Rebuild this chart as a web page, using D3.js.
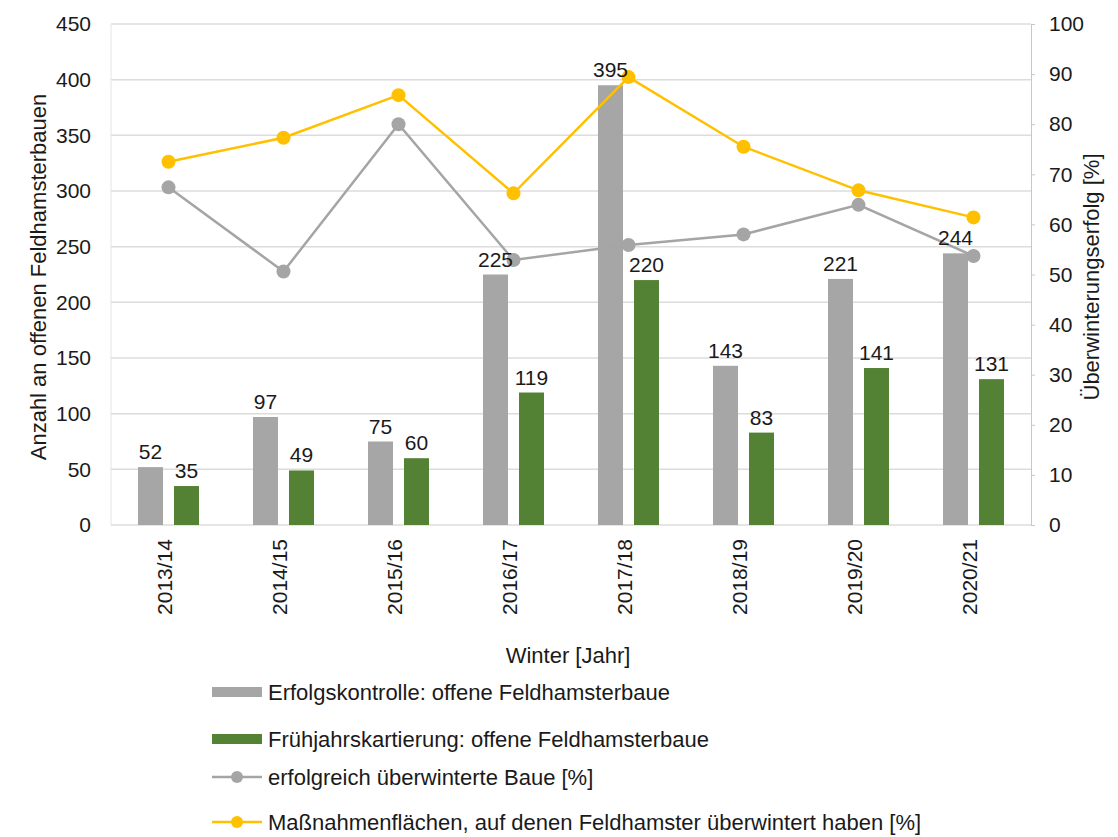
<!DOCTYPE html>
<html>
<head>
<meta charset="utf-8">
<script src="https://cdn.jsdelivr.net/npm/d3@7"></script>
<style>
  body { margin: 0; background: #fff; }
  text { font-family: "Liberation Sans", Arial, sans-serif; fill: #1a1a1a; }
</style>
</head>
<body>
<div id="chart"></div>
<script>
var winters = ["2013/14", "2014/15", "2015/16", "2016/17", "2017/18", "2018/19", "2019/20", "2020/21"];
var erfolgskontrolle = [52, 97, 75, 225, 395, 143, 221, 244];
var fruehjahr = [35, 49, 60, 119, 220, 83, 141, 131];
var ueberwinterteBaue = [67.4, 50.6, 80.0, 52.9, 55.9, 58.0, 63.9, 53.7];
var massnahmenflaechen = [72.5, 77.3, 85.8, 66.2, 89.4, 75.5, 66.8, 61.4];
var leftTicks = [0, 50, 100, 150, 200, 250, 300, 350, 400, 450];
var rightTicks = [0, 10, 20, 30, 40, 50, 60, 70, 80, 90, 100];
var legendLabels = [
  "Erfolgskontrolle: offene Feldhamsterbaue",
  "Frühjahrskartierung: offene Feldhamsterbaue",
  "erfolgreich überwinterte Baue [%]",
  "Maßnahmenflächen, auf denen Feldhamster überwintert haben [%]"
];

var W = 1118, H = 837,
  plot = {left: 111, right: 1031, top: 24, bottom: 525},
  grey = "#a6a6a6", green = "#548235", yellow = "#ffc000", greyLine = "#a5a5a5";

var svg = d3.select("#chart").append("svg")
  .attr("width", W).attr("height", H);

var x = d3.scaleBand().domain(winters).range([plot.left, plot.right]);
var yL = d3.scaleLinear().domain([0, 450]).range([plot.bottom, plot.top]);
var yR = d3.scaleLinear().domain([0, 100]).range([plot.bottom, plot.top]);

// gridlines
svg.append("g").selectAll("line").data(leftTicks).enter().append("line")
  .attr("x1", plot.left).attr("x2", plot.right)
  .attr("y1", function (d) { return yL(d); }).attr("y2", function (d) { return yL(d); })
  .attr("stroke", "#dcdcdc").attr("stroke-width", 1.5);

svg.append("line").attr("x1", plot.left).attr("x2", plot.left)
  .attr("y1", plot.top).attr("y2", plot.bottom)
  .attr("stroke", "#e4e4e4").attr("stroke-width", 1);

// left axis
var leftAxis = svg.append("g")
  .attr("transform", "translate(" + plot.left + ",0)")
  .call(d3.axisLeft(yL).tickValues(leftTicks).tickSize(0).tickPadding(20));
leftAxis.select(".domain").remove();
leftAxis.selectAll("text").style("font-size", "21px").attr("fill", "#1a1a1a");

// right axis
var rightAxis = svg.append("g")
  .attr("transform", "translate(" + plot.right + ",0)")
  .call(d3.axisRight(yR).tickValues(rightTicks).tickSize(4).tickPadding(14).tickSizeOuter(0));
rightAxis.select(".domain").attr("stroke", "#c8c8c8");
rightAxis.selectAll(".tick line").attr("stroke", "#c8c8c8");
rightAxis.selectAll("text").style("font-size", "21px").attr("fill", "#1a1a1a");

// x axis labels
var xAxis = svg.append("g")
  .attr("transform", "translate(0," + plot.bottom + ")")
  .call(d3.axisBottom(x).tickSize(0).tickPadding(0));
xAxis.select(".domain").remove();
xAxis.selectAll("text")
  .style("font-size", "21px")
  .attr("text-anchor", "end")
  .attr("dy", "0.35em")
  .attr("transform", "translate(-4,14) rotate(-90)");

// bars
var bw = 25;
var bars = svg.append("g");
bars.selectAll(".g").data(erfolgskontrolle).enter().append("rect")
  .attr("x", function (d, i) { return x(winters[i]) + x.bandwidth() / 2 - 5.5 - bw; })
  .attr("y", function (d) { return yL(d); })
  .attr("width", bw)
  .attr("height", function (d) { return plot.bottom - yL(d); })
  .attr("fill", grey);
bars.selectAll(".f").data(fruehjahr).enter().append("rect")
  .attr("x", function (d, i) { return x(winters[i]) + x.bandwidth() / 2 + 5.5; })
  .attr("y", function (d) { return yL(d); })
  .attr("width", bw)
  .attr("height", function (d) { return plot.bottom - yL(d); })
  .attr("fill", green);

// lines
function drawLine(values, color) {
  var line = d3.line()
    .x(function (d, i) { return x(winters[i]) + x.bandwidth() / 2; })
    .y(function (d) { return yR(d); });
  var g = svg.append("g");
  g.append("path").datum(values).attr("d", line)
    .attr("fill", "none").attr("stroke", color).attr("stroke-width", 2.5);
  g.selectAll("circle").data(values).enter().append("circle")
    .attr("cx", function (d, i) { return x(winters[i]) + x.bandwidth() / 2; })
    .attr("cy", function (d) { return yR(d); })
    .attr("r", 7).attr("fill", color);
}
drawLine(ueberwinterteBaue, greyLine);
drawLine(massnahmenflaechen, yellow);

// data labels
var labels = svg.append("g");
labels.selectAll(".lg").data(erfolgskontrolle).enter().append("text")
  .attr("x", function (d, i) { return x(winters[i]) + x.bandwidth() / 2 - 5.5 - bw / 2; })
  .attr("y", function (d) { return yL(d) - 8; })
  .attr("text-anchor", "middle").style("font-size", "21px")
  .text(function (d) { return d; });
labels.selectAll(".lf").data(fruehjahr).enter().append("text")
  .attr("x", function (d, i) { return x(winters[i]) + x.bandwidth() / 2 + 5.5 + bw / 2; })
  .attr("y", function (d) { return yL(d) - 8; })
  .attr("text-anchor", "middle").style("font-size", "21px")
  .text(function (d) { return d; });

// axis titles
svg.append("text").attr("x", 568).attr("y", 663)
  .attr("text-anchor", "middle").style("font-size", "22px").text("Winter [Jahr]");
svg.append("text").attr("transform", "translate(46,277) rotate(-90)")
  .attr("text-anchor", "middle").style("font-size", "22px").text("Anzahl an offenen Feldhamsterbauen");
svg.append("text").attr("transform", "translate(1099,277) rotate(-90)")
  .attr("text-anchor", "middle").style("font-size", "22px").text("Überwinterungserfolg [%]");

// legend
var legendY = [692, 739, 777, 822];
var legend = svg.append("g");
legendLabels.forEach(function (name, i) {
  var y = legendY[i];
  if (i < 2) {
    legend.append("rect").attr("x", 212).attr("y", y - 5).attr("width", 50).attr("height", 10)
      .attr("fill", i === 0 ? grey : green);
  } else {
    var c = i === 2 ? greyLine : yellow;
    legend.append("line").attr("x1", 212).attr("x2", 262).attr("y1", y).attr("y2", y)
      .attr("stroke", c).attr("stroke-width", 2.5);
    legend.append("circle").attr("cx", 237).attr("cy", y).attr("r", 6).attr("fill", c);
  }
  legend.append("text").attr("x", 268).attr("y", y).attr("dy", "0.35em")
    .style("font-size", "22px").text(name);
});
</script>
</body>
</html>
